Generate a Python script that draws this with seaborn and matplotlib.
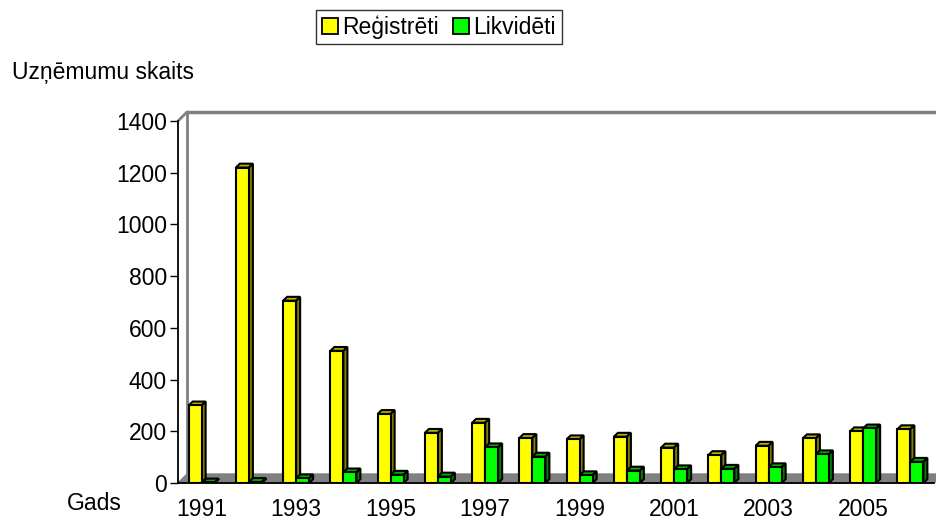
import numpy as np
import pandas as pd
import seaborn as sns
import matplotlib.pyplot as plt
from matplotlib.patches import Polygon, Patch
from matplotlib.colors import to_rgb

# data
years = [str(y) for y in range(1991, 2007)]
registreti = [300, 1220, 705, 511, 267, 194, 233, 174, 169, 179, 137, 108, 144, 173, 200, 208]
likvideti = [2, 4, 18, 41, 32, 25, 138, 102, 30, 48, 53, 55, 61, 111, 211, 82]

df = pd.DataFrame({
    "Gads": years * 2,
    "Skaits": registreti + likvideti,
    "Veids": ["Reģistrēti"] * len(years) + ["Likvidēti"] * len(years),
})

sns.set_style("white")
plt.rcParams["font.family"] = ["Liberation Sans", "DejaVu Sans"]
plt.rcParams["text.color"] = "black"
plt.rcParams["xtick.color"] = "black"
plt.rcParams["ytick.color"] = "black"
fs = 16.5

fig = plt.figure(figsize=(9.36, 5.2), dpi=100)
ax = fig.add_axes([178 / 936, 37 / 520, 756 / 936, 362 / 520])

pal = {"Reģistrēti": "#ffff00", "Likvidēti": "#00ff00"}
sns.barplot(data=df, x="Gads", y="Skaits", hue="Veids", palette=pal, width=0.55,
            edgecolor="black", linewidth=1.5, saturation=1, ax=ax, zorder=3)
ax.get_legend().remove()

# fake 3d depth for bars
dx, dy = 0.085, 15
for p in list(ax.patches):
    x0 = p.get_x()
    x1 = x0 + p.get_width()
    h = p.get_height()
    c = np.array(to_rgb(p.get_facecolor()))
    top = Polygon([(x0, h), (x0 + dx, h + dy), (x1 + dx, h + dy), (x1, h)],
                  facecolor=c * 0.7, edgecolor="black", linewidth=1.5, zorder=2.9)
    side = Polygon([(x1, 0), (x1 + dx, dy), (x1 + dx, h + dy), (x1, h)],
                   facecolor=c * 0.5, edgecolor="black", linewidth=1.5, zorder=2.9)
    ax.add_patch(top)
    ax.add_patch(side)

ax.set_xlim(-0.5, 15.5)
ax.set_ylim(0, 1400)
ax.set_yticks(range(0, 1401, 200))

# floor and back wall
wx, wy = 9 / 756, 9 / 362
floor = Polygon([(0, 0), (1, 0), (1 + wx, wy), (wx, wy)], closed=True,
                facecolor="#808080", edgecolor="#808080", transform=ax.transAxes,
                zorder=1, clip_on=False)
ax.add_patch(floor)
ax.plot([wx, wx], [wy, 1 + wy], color="#808080", lw=2, transform=ax.transAxes, clip_on=False, zorder=1)
ax.plot([wx, 1.01], [1 + wy, 1 + wy], color="#808080", lw=2.5, transform=ax.transAxes, clip_on=False, zorder=1)
ax.plot([0, wx], [1, 1 + wy], color="#808080", lw=2, transform=ax.transAxes, clip_on=False, zorder=1)

for s in ["top", "right"]:
    ax.spines[s].set_visible(False)
for s in ["left", "bottom"]:
    ax.spines[s].set_color("black")
    ax.spines[s].set_linewidth(1.3)
    ax.spines[s].set_zorder(4)

# labels every second year, ticks on category boundaries
ax.set_xticks(range(0, 16, 2))
ax.set_xticklabels(years[::2])
ax.set_xticks(np.arange(-0.5, 16, 1), minor=True)
ax.tick_params(axis="x", which="major", length=0, pad=11, labelsize=fs, labelcolor="black")
ax.tick_params(axis="x", which="minor", length=7, width=1, color="black", direction="out")
ax.tick_params(axis="y", length=6, width=1, color="black", direction="out", labelsize=fs,
               labelcolor="black", left=True, pad=2)
ax.set_xlabel("")
ax.set_ylabel("")

fig.text(12 / 936, 1 - 72 / 520, "Uzņēmumu skaits", fontsize=fs, va="center", ha="left", color="black")
fig.text(67 / 936, 1 - 504 / 520, "Gads", fontsize=fs, va="center", ha="left", color="black")

handles = [Patch(facecolor=pal[k], edgecolor="black", linewidth=1.3) for k in pal]
leg = fig.legend(handles, list(pal.keys()), loc="center", bbox_to_anchor=(439 / 936, 1 - 27 / 520),
                 ncol=2, fontsize=fs, frameon=True, fancybox=False, handlelength=0.7, handleheight=0.7,
                 handletextpad=0.2, columnspacing=0.6, borderpad=0.25, borderaxespad=0,
                 labelcolor="black")
leg.get_frame().set_edgecolor("black")
leg.get_frame().set_linewidth(1)

fig.savefig("out.png", dpi=100)
